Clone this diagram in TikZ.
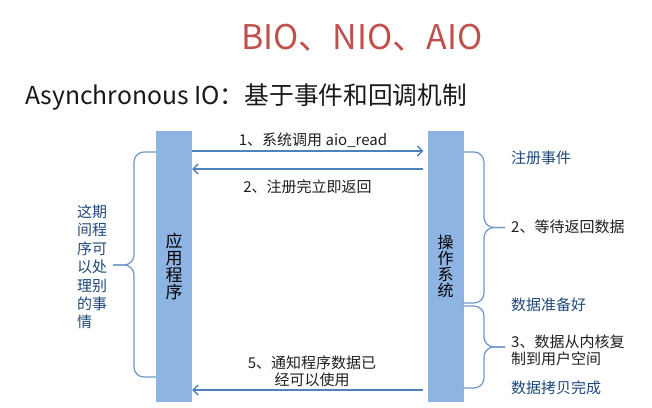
\documentclass[tikz,border=0pt]{standalone}
\usepackage{fontspec}
\setmainfont{Noto Sans CJK SC}
\usetikzlibrary{arrows.meta}
\definecolor{barblue}{HTML}{8DB4E2}
\definecolor{lineblue}{HTML}{4F81BD}
\definecolor{braceblue}{HTML}{6E96C9}
\definecolor{noteblue}{HTML}{1F497D}
\definecolor{titlered}{HTML}{C0504D}
\begin{document}
\begin{tikzpicture}[x=1pt, y=-1pt,
	bar/.style={shape=rectangle, fill=barblue, minimum width=36pt, minimum height=271pt, inner sep=0pt, align=center},
	msg/.style={line width=1.3pt, draw=lineblue, -{Straight Barb[length=5pt, width=10pt]}},
	curly/.style={line width=1.2pt, draw=braceblue, rounded corners=10pt},
	lbl/.style={font=\fontsize{15}{17}\selectfont, text=black!88, inner sep=0pt},
	note/.style={font=\fontsize{15}{18.4}\selectfont, text=noteblue, inner sep=0pt}]
	\useasboundingbox (0,0) rectangle (652,407);
	\node[font=\fontsize{34}{36}\selectfont, text=titlered, anchor=base] (title) at (362,49) {BIO、NIO、AIO};
	\node[font=\fontsize{24.7}{28}\selectfont, text=black!90, anchor=base west, inner sep=0pt] (subtitle) at (25,104) {Asynchronous IO：基于事件和回调机制};
	\node[bar, font=\fontsize{17}{16.8}\selectfont] (app) at (174,266.5) {应\\用\\程\\序};
	\node[bar, font=\fontsize{16}{16.2}\selectfont] (os) at (445.5,266.5) {操\\作\\系\\统};
	\draw[msg, shorten >=4pt] (app.east |- 0,151) -- (os.west |- 0,151);
	\draw[msg, shorten <=4pt] (os.west |- 0,169) -- (app.east |- 0,169);
	\draw[msg, shorten <=4pt] (os.west |- 0,390) -- (app.east |- 0,390);
	\node[lbl] (call) at (313,140) {1、系统调用 aio\_read};
	\node[lbl] (ret) at (307.5,187) {2、注册完立即返回};
	\node[lbl, align=center] (notify) at (312,371.5) {5、通知程序数据已\\经可以使用};
	\draw[curly] (app.west |- 0,152) -| (134,265) -- (113,265);
	\draw[curly] (app.west |- 0,377) -| (134,265) -- (113,265);
	\node[note, anchor=west, align=left] (meanwhile) at (77,267) {这期\\间程\\序可\\以处\\理别\\的事\\情};
	\draw[curly] (os.east |- 0,152) -| (484,227.5) -- (505,227.5);
	\draw[curly] (os.east |- 0,303) -| (484,227.5) -- (505,227.5);
	\draw[curly] (os.east |- 0,306) -| (484,347) -- (505,347);
	\draw[curly] (os.east |- 0,388) -| (484,347) -- (505,347);
	\node[note, anchor=west] (reg) at (511,158) {注册事件};
	\node[lbl, anchor=west] (wait) at (511,227) {2、等待返回数据};
	\node[note, anchor=west] (ready) at (511,305) {数据准备好};
	\node[lbl, anchor=west, align=left] (copy) at (511,350) {3、数据从内核复\\制到用户空间};
	\node[note, anchor=west] (done) at (511,388) {数据拷贝完成};
\end{tikzpicture}
\end{document}
